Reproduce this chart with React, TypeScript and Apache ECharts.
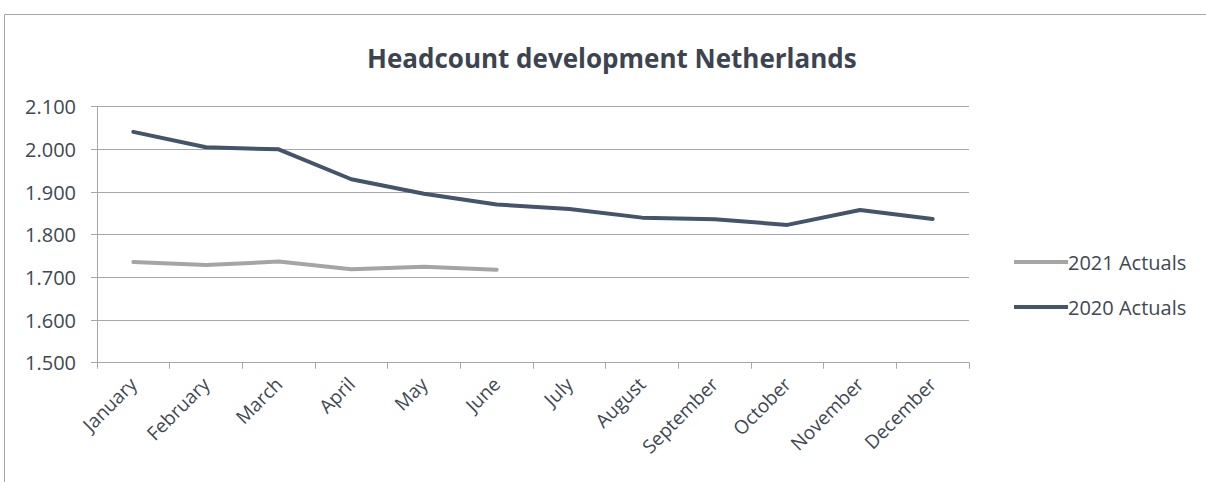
import React, { useEffect, useRef } from "react";
import * as echarts from "echarts";

const months = ["January", "February", "March", "April", "May", "June", "July", "August", "September", "October", "November", "December"];
const actuals2021 = [1736, 1729, 1737, 1719, 1725, 1718];
const actuals2020 = [2041, 2005, 2000, 1930, 1896, 1871, 1860, 1840, 1836, 1823, 1858, 1837];
const seriesNames = ["2021 Actuals", "2020 Actuals"];
const titleText = "Headcount development Netherlands";

const FONT = "'Open Sans', sans-serif";
const TEXT = "#404853";

function fmt(v: number) {
  const s = Math.round(v).toString();
  return s.length > 3 ? s.slice(0, s.length - 3) + "." + s.slice(s.length - 3) : s;
}

export default function App() {
  const ref = useRef<HTMLDivElement>(null);
  useEffect(() => {
    const chart = echarts.init(ref.current!, null, { renderer: "svg" });
    chart.setOption({
      animation: false,
      backgroundColor: "#ffffff",
      textStyle: { fontFamily: FONT },
      title: {
        text: titleText,
        left: 362,
        top: 40,
        textStyle: { fontFamily: FONT, fontWeight: "bold", fontSize: 26, color: "#3b4450" },
      },
      graphic: [
        {
          type: "rect",
          shape: { x: 4.5, y: 14.5, width: 1400, height: 600 },
          style: { fill: "none", stroke: "#a6a6a6", lineWidth: 1 },
          silent: true,
        },
      ],
      legend: {
        orient: "vertical",
        left: 1009,
        top: 247,
        itemWidth: 54,
        itemHeight: 4,
        itemGap: 25,
        icon: "rect",
        textStyle: { fontFamily: FONT, fontSize: 20, lineHeight: 20, color: TEXT, padding: [0, 0, 0, -5] },
        data: seriesNames,
      },
      grid: { left: 97, right: 237, top: 106.7, bottom: 119.3, containLabel: false },
      xAxis: {
        type: "category",
        data: months,
        boundaryGap: true,
        axisLine: { lineStyle: { color: "#a6a6a6", width: 1 } },
        axisTick: { show: true, length: 6, interval: 0, lineStyle: { color: "#a6a6a6" } },
        axisLabel: { rotate: 45, interval: 0, margin: 18, fontFamily: FONT, fontSize: 19, color: TEXT },
      },
      yAxis: {
        type: "value",
        min: 1500,
        max: 2100,
        interval: 100,
        axisLine: { show: true, lineStyle: { color: "#a6a6a6" } },
        axisTick: { show: true, length: 6, lineStyle: { color: "#a6a6a6" } },
        splitLine: { lineStyle: { color: "#a6a6a6", width: 1 } },
        axisLabel: { margin: 21, fontFamily: FONT, fontSize: 20, color: TEXT, formatter: (v: number) => fmt(v) },
      },
      series: [
        {
          name: seriesNames[0],
          type: "line",
          data: actuals2021,
          showSymbol: false,
          symbol: "none",
          lineStyle: { color: "#a5a5a5", width: 4, cap: "round", join: "round" },
          itemStyle: { color: "#a5a5a5" },
        },
        {
          name: seriesNames[1],
          type: "line",
          data: actuals2020,
          showSymbol: false,
          symbol: "none",
          lineStyle: { color: "#44546a", width: 4, cap: "round", join: "round" },
          itemStyle: { color: "#44546a" },
        },
      ],
    });
    return () => chart.dispose();
  }, []);
  return (
    <div style={{ position: "fixed", left: 0, top: 0, width: 1206, height: 482, background: "#fff" }}>
      <div ref={ref} style={{ width: 1206, height: 482 }} />
    </div>
  );
}
